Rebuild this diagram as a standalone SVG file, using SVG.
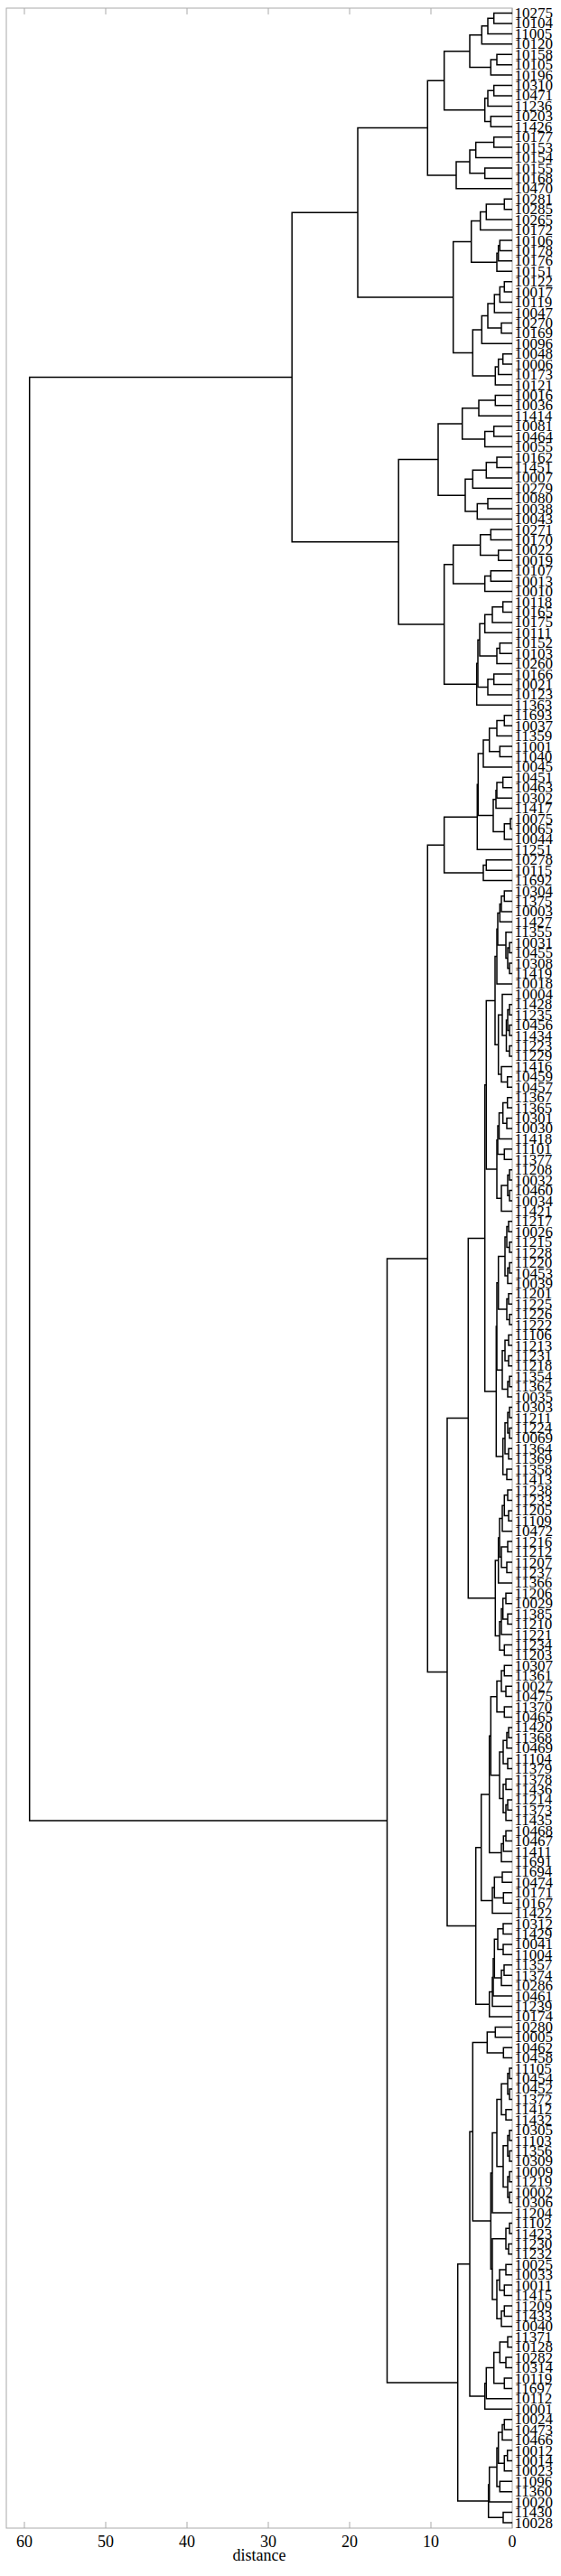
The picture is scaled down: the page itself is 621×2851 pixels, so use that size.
<svg xmlns="http://www.w3.org/2000/svg" width="621" height="2851" viewBox="0 0 621 2851">
<style>
.frame{fill:none;stroke:#aaaaaa;stroke-width:1}
.tick{stroke:#aaaaaa;stroke-width:1}
.lk path{fill:none;stroke:#000;stroke-width:1.5}
.lbl{font-family:"Liberation Serif","Times New Roman",serif;font-size:17px;fill:#000;dominant-baseline:central}
.tl{font-family:"Liberation Serif","Times New Roman",serif;font-size:18px;fill:#000;text-anchor:middle}
</style>
<rect width="621" height="2851" fill="#fff"/>
<g id="axes">
<rect class="frame" x="7" y="9" width="560" height="2789"/>
<path class="tick" d="M27 2798V2791M117 2798V2791M207 2798V2791M297 2798V2791M387 2798V2791M477 2798V2791M567 2798V2791M27 9V16M117 9V16M207 9V16M297 9V16M387 9V16M477 9V16M567 9V16"/>
<text class="tl" x="27" y="2819">60</text>
<text class="tl" x="117" y="2819">50</text>
<text class="tl" x="207" y="2819">40</text>
<text class="tl" x="297" y="2819">30</text>
<text class="tl" x="387" y="2819">20</text>
<text class="tl" x="477" y="2819">10</text>
<text class="tl" x="567" y="2819">0</text>
<text class="tl" x="287" y="2834">distance</text>
</g>
<g id="connectors" class="lk">
<path d="M567 14.5H546.7V25.9H567"/><path d="M546.7 20.2H540V37.4H567"/><path d="M540 28.8H533.3V48.8H567"/><path d="M567 60.2H550V71.7H567"/><path d="M550 66H543.3V83.1H567"/><path d="M533.3 38.8H520V74.6H543.3"/><path d="M567 94.5H546.7V105.9H567"/><path d="M546.7 100.2H540V117.4H567"/><path d="M567 128.8H543.3V140.2H567"/><path d="M540 108.8H536.7V134.5H543.3"/><path d="M520 56.7H491.7V121.7H536.7"/><path d="M567 151.7H546.7V163.1H567"/><path d="M546.7 157.4H526.7V174.5H567"/><path d="M567 186H536.7V197.4H567"/><path d="M526.7 166H520V191.7H536.7"/><path d="M520 178.9H505V208.8H567"/><path d="M491.7 89.2H473.3V193.9H505"/><path d="M567 220.2H558.3V231.7H567"/><path d="M558.3 226H538.3V243.1H567"/><path d="M538.3 234.6H531.7V254.5H567"/><path d="M567 266H553.3V277.4H567"/><path d="M553.3 271.7H551.7V288.8H567"/><path d="M551.7 280.3H550V300.3H567"/><path d="M531.7 244.6H521.7V290.3H550"/><path d="M567 311.7H558.3V323.1H567"/><path d="M558.3 317.4H553.3V334.5H567"/><path d="M553.3 326H547.3V346H567"/><path d="M567 357.4H555V368.8H567"/><path d="M547.3 336H540V363.1H555"/><path d="M540 349.6H533.3V380.3H567"/><path d="M567 391.7H556.7V403.1H567"/><path d="M556.7 397.4H551.7V414.6H567"/><path d="M551.7 406H548.3V426H567"/><path d="M533.3 365H523.3V416H548.3"/><path d="M521.7 267.5H501.7V390.5H523.3"/><path d="M473.3 141.6H396V329H501.7"/>
<path d="M567 437.4H548.3V448.8H567"/><path d="M548.3 443.1H530V460.3H567"/><path d="M567 471.7H546.7V483.1H567"/><path d="M546.7 477.4H536.7V494.6H567"/><path d="M530 451.7H511.7V486H536.7"/><path d="M567 506H550V517.4H567"/><path d="M550 511.7H538.3V528.9H567"/><path d="M538.3 520.3H523.3V540.3H567"/><path d="M567 551.7H540V563.1H567"/><path d="M540 557.4H528.3V574.6H567"/><path d="M523.3 530.3H515V566H528.3"/><path d="M511.7 468.9H485V548.2H515"/><path d="M567 586H543.3V597.4H567"/><path d="M567 608.9H551.7V620.3H567"/><path d="M543.3 591.7H531.7V614.6H551.7"/><path d="M567 631.7H543.3V643.2H567"/><path d="M543.3 637.5H536.7V654.6H567"/><path d="M531.7 603.2H501.7V646.1H536.7"/><path d="M567 666H556.7V677.4H567"/><path d="M556.7 671.7H545V688.9H567"/><path d="M545 680.3H536.7V700.3H567"/><path d="M567 711.7H553.3V723.2H567"/><path d="M553.3 717.5H550V734.6H567"/><path d="M536.7 690.3H531V726.1H550"/><path d="M567 746H546.7V757.5H567"/><path d="M546.7 751.8H540V768.9H567"/><path d="M531 708.2H529V760.4H540"/><path d="M529 734.3H527.7V780.3H567"/><path d="M501.7 624.7H491.7V757.3H527.7"/><path d="M485 508.6H441.2V691H491.7"/><path d="M396 235.3H323.2V599.8H441.2"/>
<path d="M567 791.7H558.3V803.2H567"/><path d="M558.3 797.5H550V814.6H567"/><path d="M567 826H553.3V837.5H567"/><path d="M550 806.1H541.7V831.8H553.3"/><path d="M541.7 819H535V848.9H567"/><path d="M567 860.3H556.7V871.8H567"/><path d="M556.7 866.1H550V883.2H567"/><path d="M550 874.7H549V894.6H567"/><path d="M567 906H565V917.5H567"/><path d="M565 911.8H558.3V928.9H567"/><path d="M549 884.7H546V920.4H558.3"/><path d="M535 834H529.3V902.6H546"/><path d="M529.3 868.3H528.3V940.3H567"/><path d="M567 951.8H538.3V963.2H567"/><path d="M538.3 957.5H535V974.6H567"/><path d="M528.3 904.3H491.7V966.1H535"/>
<path d="M567 986.1H558.3V997.5H567"/><path d="M558.3 991.8H555V1008.9H567"/><path d="M555 1000.4H553.3V1020.3H567"/><path d="M567 1043.2H564V1054.6H567"/><path d="M567 1066.1H564V1077.5H567"/><path d="M564 1048.9H562V1071.8H564"/><path d="M567 1031.8H560V1060.4H562"/><path d="M553.3 1010.4H551V1046.1H560"/><path d="M551 1028.3H550V1088.9H567"/><path d="M567 1111.8H564V1123.2H567"/><path d="M567 1134.6H564V1146.1H567"/><path d="M564 1117.5H562V1140.4H564"/><path d="M567 1157.5H564V1168.9H567"/><path d="M562 1129H560.5V1163.2H564"/><path d="M567 1100.4H556V1146.1H560.5"/><path d="M567 1191.8H561.7V1203.2H567"/><path d="M567 1180.4H555V1197.5H561.7"/><path d="M556 1123.3H551.7V1189H555"/><path d="M550 1058.6H548V1156.2H551.7"/><path d="M567 1214.7H561.7V1226.1H567"/><path d="M567 1237.5H561V1248.9H567"/><path d="M561.7 1220.4H556.7V1243.2H561"/><path d="M556.7 1231.8H552.5V1260.4H567"/><path d="M567 1271.8H558.3V1283.2H567"/><path d="M552.5 1246.1H551V1277.5H558.3"/><path d="M567 1294.7H564V1306.1H567"/><path d="M567 1317.5H564V1329H567"/><path d="M564 1300.4H562V1323.3H564"/><path d="M562 1311.9H555V1340.4H567"/><path d="M551 1261.8H550V1326.2H555"/><path d="M548 1107.4H538.3V1294H550"/>
<path d="M567 1351.8H563V1363.2H567"/><path d="M567 1374.7H564V1386.1H567"/><path d="M563 1357.5H561V1380.4H564"/><path d="M567 1397.5H564V1409H567"/><path d="M564 1403.3H562V1420.4H567"/><path d="M561 1369H559V1411.9H562"/><path d="M567 1431.8H563V1443.3H567"/><path d="M567 1454.7H564V1466.1H567"/><path d="M563 1437.6H561V1460.4H564"/><path d="M567 1477.5H563V1489H567"/><path d="M567 1500.4H563V1511.8H567"/><path d="M563 1483.3H559V1506.1H563"/><path d="M567 1523.3H564V1534.7H567"/><path d="M564 1529H562V1546.1H567"/><path d="M559 1494.7H556V1537.6H562"/><path d="M559 1390.4H551.7V1449H561"/><path d="M551.7 1419.7H550V1516.2H556"/><path d="M567 1557.6H564V1569H567"/><path d="M567 1580.4H564V1591.8H567"/><path d="M564 1563.3H562V1586.1H564"/><path d="M567 1603.3H563V1614.7H567"/><path d="M562 1574.7H559V1609H563"/><path d="M567 1626.1H561V1637.6H567"/><path d="M559 1591.9H556.7V1631.9H561"/><path d="M550 1468H549.3V1611.9H556.7"/><path d="M538.3 1200.7H536.7V1540H549.3"/>
<path d="M567 1649H562V1660.4H567"/><path d="M567 1671.9H563V1683.3H567"/><path d="M562 1654.7H558.3V1677.6H563"/><path d="M558.3 1666.2H556V1694.7H567"/><path d="M567 1706.1H562V1717.6H567"/><path d="M567 1729H561V1740.4H567"/><path d="M562 1711.9H555V1734.7H561"/><path d="M556 1680.5H553V1723.3H555"/><path d="M553 1701.9H551.7V1751.9H567"/><path d="M567 1763.3H560V1774.7H567"/><path d="M567 1786.2H562V1797.6H567"/><path d="M560 1769H556.7V1791.9H562"/><path d="M556.7 1780.5H555V1809H567"/><path d="M567 1820.4H558.3V1831.9H567"/><path d="M555 1794.8H553V1826.2H558.3"/><path d="M551.7 1726.9H548.3V1810.5H553"/><path d="M536.7 1370.4H518.3V1768.7H548.3"/>
<path d="M567 1843.3H558.3V1854.7H567"/><path d="M567 1866.2H560V1877.6H567"/><path d="M558.3 1849H555V1871.9H560"/><path d="M567 1889H558.3V1900.5H567"/><path d="M555 1860.5H550V1894.8H558.3"/><path d="M567 1911.9H563V1923.3H567"/><path d="M563 1917.6H561V1934.7H567"/><path d="M567 1946.2H562V1957.6H567"/><path d="M561 1926.2H557V1951.9H562"/><path d="M567 1969H560V1980.5H567"/><path d="M567 1991.9H562V2003.3H567"/><path d="M562 1997.6H560V2014.8H567"/><path d="M560 1974.8H557V2006.2H560"/><path d="M557 1939.1H553V1990.5H557"/><path d="M550 1877.7H543.3V1964.8H553"/><path d="M567 2026.2H560V2037.6H567"/><path d="M560 2031.9H557.3V2049H567"/><path d="M557.3 2040.5H555V2060.5H567"/><path d="M543.3 1921.3H541.7V2050.5H555"/><path d="M567 2071.9H556V2083.3H567"/><path d="M567 2094.8H557.3V2106.2H567"/><path d="M556 2077.6H547.3V2100.5H557.3"/><path d="M547.3 2089.1H545V2117.6H567"/><path d="M541.7 1985.9H532.7V2103.4H545"/><path d="M567 2129.1H557V2140.5H567"/><path d="M567 2151.9H557V2163.3H567"/><path d="M557 2134.8H551V2157.6H557"/><path d="M567 2174.8H558V2186.2H567"/><path d="M558 2180.5H555V2197.6H567"/><path d="M551 2146.2H547.3V2189.1H555"/><path d="M547.3 2167.7H546V2209.1H567"/><path d="M546 2188.4H545V2220.5H567"/><path d="M545 2204.5H541.7V2231.9H567"/><path d="M532.7 2044.7H526.7V2218.2H541.7"/><path d="M518.3 1569.6H495V2131.5H526.7"/><path d="M491.7 935.2H473.3V1850.6H495"/>
<path d="M567 2243.4H548.3V2254.8H567"/><path d="M567 2266.2H557.3V2277.6H567"/><path d="M548.3 2249.1H539.3V2271.9H557.3"/><path d="M567 2289.1H564V2300.5H567"/><path d="M567 2311.9H564V2323.4H567"/><path d="M564 2294.8H562V2317.7H564"/><path d="M567 2334.8H560V2346.2H567"/><path d="M562 2306.2H555V2340.5H560"/><path d="M567 2357.7H564V2369.1H567"/><path d="M567 2380.5H564V2391.9H567"/><path d="M564 2363.4H562V2386.2H564"/><path d="M567 2403.4H564V2414.8H567"/><path d="M567 2426.2H564V2437.7H567"/><path d="M564 2409.1H562V2432H564"/><path d="M562 2374.8H557V2420.6H562"/><path d="M555 2323.4H550V2397.7H557"/><path d="M550 2360.6H545V2449.1H567"/><path d="M567 2460.5H564V2472H567"/><path d="M567 2483.4H563V2494.8H567"/><path d="M564 2466.3H560V2489.1H563"/><path d="M567 2506.2H560V2517.7H567"/><path d="M567 2529.1H558.3V2540.5H567"/><path d="M560 2512H553V2534.8H558.3"/><path d="M567 2552H558.3V2563.4H567"/><path d="M558.3 2557.7H555V2574.8H567"/><path d="M553 2523.4H550V2566.3H555"/><path d="M560 2477.7H545V2544.9H550"/><path d="M545 2404.9H543.3V2511.3H545"/><path d="M539.3 2260.5H523.3V2458.1H543.3"/><path d="M567 2586.3H562V2597.7H567"/><path d="M567 2609.1H560V2620.5H567"/><path d="M562 2592H553.3V2614.8H560"/><path d="M567 2632H558.3V2643.4H567"/><path d="M553.3 2603.4H546.7V2637.7H558.3"/><path d="M546.7 2620.6H538.3V2654.8H567"/><path d="M538.3 2637.7H536.7V2666.3H567"/><path d="M523.3 2359.3H520V2652H536.7"/><path d="M567 2677.7H558.3V2689.1H567"/><path d="M558.3 2683.4H556V2700.6H567"/><path d="M567 2712H561.7V2723.4H567"/><path d="M561.7 2717.7H558.3V2734.8H567"/><path d="M556 2692H551.7V2726.3H558.3"/><path d="M567 2746.3H553.3V2757.7H567"/><path d="M551.7 2709.2H550V2752H553.3"/><path d="M550 2730.6H541.7V2769.1H567"/><path d="M567 2780.6H557V2792H567"/><path d="M541.7 2749.9H540.7V2786.3H557"/><path d="M520 2505.7H506.7V2768.1H540.7"/><path d="M473.3 1392.9H428.5V2636.9H506.7"/><path d="M323.2 417.6H32.7V2014.9H428.5"/>
</g>
<g id="leaves" class="lbl">
<g id="leaf0"><text x="569.5" y="14.5">10275</text></g>
<g id="leaf1"><text x="569.5" y="25.9">10104</text></g>
<g id="leaf2"><text x="569.5" y="37.4">11005</text></g>
<g id="leaf3"><text x="569.5" y="48.8">10120</text></g>
<g id="leaf4"><text x="569.5" y="60.2">10158</text></g>
<g id="leaf5"><text x="569.5" y="71.7">10105</text></g>
<g id="leaf6"><text x="569.5" y="83.1">10196</text></g>
<g id="leaf7"><text x="569.5" y="94.5">10310</text></g>
<g id="leaf8"><text x="569.5" y="105.9">10471</text></g>
<g id="leaf9"><text x="569.5" y="117.4">11236</text></g>
<g id="leaf10"><text x="569.5" y="128.8">10203</text></g>
<g id="leaf11"><text x="569.5" y="140.2">11426</text></g>
<g id="leaf12"><text x="569.5" y="151.7">10177</text></g>
<g id="leaf13"><text x="569.5" y="163.1">10153</text></g>
<g id="leaf14"><text x="569.5" y="174.5">10154</text></g>
<g id="leaf15"><text x="569.5" y="186">10155</text></g>
<g id="leaf16"><text x="569.5" y="197.4">10168</text></g>
<g id="leaf17"><text x="569.5" y="208.8">10470</text></g>
<g id="leaf18"><text x="569.5" y="220.2">10281</text></g>
<g id="leaf19"><text x="569.5" y="231.7">10285</text></g>
<g id="leaf20"><text x="569.5" y="243.1">10265</text></g>
<g id="leaf21"><text x="569.5" y="254.5">10172</text></g>
<g id="leaf22"><text x="569.5" y="266">10106</text></g>
<g id="leaf23"><text x="569.5" y="277.4">10178</text></g>
<g id="leaf24"><text x="569.5" y="288.8">10176</text></g>
<g id="leaf25"><text x="569.5" y="300.3">10151</text></g>
<g id="leaf26"><text x="569.5" y="311.7">10122</text></g>
<g id="leaf27"><text x="569.5" y="323.1">10017</text></g>
<g id="leaf28"><text x="569.5" y="334.5">10119</text></g>
<g id="leaf29"><text x="569.5" y="346">10047</text></g>
<g id="leaf30"><text x="569.5" y="357.4">10270</text></g>
<g id="leaf31"><text x="569.5" y="368.8">10169</text></g>
<g id="leaf32"><text x="569.5" y="380.3">10096</text></g>
<g id="leaf33"><text x="569.5" y="391.7">10048</text></g>
<g id="leaf34"><text x="569.5" y="403.1">10006</text></g>
<g id="leaf35"><text x="569.5" y="414.6">10173</text></g>
<g id="leaf36"><text x="569.5" y="426">10121</text></g>
<g id="leaf37"><text x="569.5" y="437.4">10016</text></g>
<g id="leaf38"><text x="569.5" y="448.8">10036</text></g>
<g id="leaf39"><text x="569.5" y="460.3">11414</text></g>
<g id="leaf40"><text x="569.5" y="471.7">10081</text></g>
<g id="leaf41"><text x="569.5" y="483.1">10464</text></g>
<g id="leaf42"><text x="569.5" y="494.6">10055</text></g>
<g id="leaf43"><text x="569.5" y="506">10162</text></g>
<g id="leaf44"><text x="569.5" y="517.4">11451</text></g>
<g id="leaf45"><text x="569.5" y="528.9">10007</text></g>
<g id="leaf46"><text x="569.5" y="540.3">10279</text></g>
<g id="leaf47"><text x="569.5" y="551.7">10080</text></g>
<g id="leaf48"><text x="569.5" y="563.1">10038</text></g>
<g id="leaf49"><text x="569.5" y="574.6">10043</text></g>
<g id="leaf50"><text x="569.5" y="586">10271</text></g>
<g id="leaf51"><text x="569.5" y="597.4">10170</text></g>
<g id="leaf52"><text x="569.5" y="608.9">10022</text></g>
<g id="leaf53"><text x="569.5" y="620.3">10019</text></g>
<g id="leaf54"><text x="569.5" y="631.7">10107</text></g>
<g id="leaf55"><text x="569.5" y="643.2">10013</text></g>
<g id="leaf56"><text x="569.5" y="654.6">10010</text></g>
<g id="leaf57"><text x="569.5" y="666">10118</text></g>
<g id="leaf58"><text x="569.5" y="677.4">10165</text></g>
<g id="leaf59"><text x="569.5" y="688.9">10175</text></g>
<g id="leaf60"><text x="569.5" y="700.3">10111</text></g>
<g id="leaf61"><text x="569.5" y="711.7">10152</text></g>
<g id="leaf62"><text x="569.5" y="723.2">10103</text></g>
<g id="leaf63"><text x="569.5" y="734.6">10260</text></g>
<g id="leaf64"><text x="569.5" y="746">10166</text></g>
<g id="leaf65"><text x="569.5" y="757.5">10021</text></g>
<g id="leaf66"><text x="569.5" y="768.9">10123</text></g>
<g id="leaf67"><text x="569.5" y="780.3">11363</text></g>
<g id="leaf68"><text x="569.5" y="791.7">11693</text></g>
<g id="leaf69"><text x="569.5" y="803.2">10037</text></g>
<g id="leaf70"><text x="569.5" y="814.6">11359</text></g>
<g id="leaf71"><text x="569.5" y="826">11001</text></g>
<g id="leaf72"><text x="569.5" y="837.5">11040</text></g>
<g id="leaf73"><text x="569.5" y="848.9">10045</text></g>
<g id="leaf74"><text x="569.5" y="860.3">10451</text></g>
<g id="leaf75"><text x="569.5" y="871.8">10463</text></g>
<g id="leaf76"><text x="569.5" y="883.2">10302</text></g>
<g id="leaf77"><text x="569.5" y="894.6">11417</text></g>
<g id="leaf78"><text x="569.5" y="906">10075</text></g>
<g id="leaf79"><text x="569.5" y="917.5">10065</text></g>
<g id="leaf80"><text x="569.5" y="928.9">10044</text></g>
<g id="leaf81"><text x="569.5" y="940.3">11251</text></g>
<g id="leaf82"><text x="569.5" y="951.8">10278</text></g>
<g id="leaf83"><text x="569.5" y="963.2">10115</text></g>
<g id="leaf84"><text x="569.5" y="974.6">11692</text></g>
<g id="leaf85"><text x="569.5" y="986.1">10304</text></g>
<g id="leaf86"><text x="569.5" y="997.5">11375</text></g>
<g id="leaf87"><text x="569.5" y="1008.9">10003</text></g>
<g id="leaf88"><text x="569.5" y="1020.3">11427</text></g>
<g id="leaf89"><text x="569.5" y="1031.8">11355</text></g>
<g id="leaf90"><text x="569.5" y="1043.2">10031</text></g>
<g id="leaf91"><text x="569.5" y="1054.6">10455</text></g>
<g id="leaf92"><text x="569.5" y="1066.1">10308</text></g>
<g id="leaf93"><text x="569.5" y="1077.5">11419</text></g>
<g id="leaf94"><text x="569.5" y="1088.9">10018</text></g>
<g id="leaf95"><text x="569.5" y="1100.4">10004</text></g>
<g id="leaf96"><text x="569.5" y="1111.8">11428</text></g>
<g id="leaf97"><text x="569.5" y="1123.2">11235</text></g>
<g id="leaf98"><text x="569.5" y="1134.6">10456</text></g>
<g id="leaf99"><text x="569.5" y="1146.1">11434</text></g>
<g id="leaf100"><text x="569.5" y="1157.5">11223</text></g>
<g id="leaf101"><text x="569.5" y="1168.9">11229</text></g>
<g id="leaf102"><text x="569.5" y="1180.4">11416</text></g>
<g id="leaf103"><text x="569.5" y="1191.8">10459</text></g>
<g id="leaf104"><text x="569.5" y="1203.2">10457</text></g>
<g id="leaf105"><text x="569.5" y="1214.7">11367</text></g>
<g id="leaf106"><text x="569.5" y="1226.1">11365</text></g>
<g id="leaf107"><text x="569.5" y="1237.5">10301</text></g>
<g id="leaf108"><text x="569.5" y="1248.9">10030</text></g>
<g id="leaf109"><text x="569.5" y="1260.4">11418</text></g>
<g id="leaf110"><text x="569.5" y="1271.8">11101</text></g>
<g id="leaf111"><text x="569.5" y="1283.2">11377</text></g>
<g id="leaf112"><text x="569.5" y="1294.7">11208</text></g>
<g id="leaf113"><text x="569.5" y="1306.1">10032</text></g>
<g id="leaf114"><text x="569.5" y="1317.5">10460</text></g>
<g id="leaf115"><text x="569.5" y="1329">10034</text></g>
<g id="leaf116"><text x="569.5" y="1340.4">11421</text></g>
<g id="leaf117"><text x="569.5" y="1351.8">11217</text></g>
<g id="leaf118"><text x="569.5" y="1363.2">10026</text></g>
<g id="leaf119"><text x="569.5" y="1374.7">11215</text></g>
<g id="leaf120"><text x="569.5" y="1386.1">11228</text></g>
<g id="leaf121"><text x="569.5" y="1397.5">11220</text></g>
<g id="leaf122"><text x="569.5" y="1409">10453</text></g>
<g id="leaf123"><text x="569.5" y="1420.4">10039</text></g>
<g id="leaf124"><text x="569.5" y="1431.8">11201</text></g>
<g id="leaf125"><text x="569.5" y="1443.3">11225</text></g>
<g id="leaf126"><text x="569.5" y="1454.7">11226</text></g>
<g id="leaf127"><text x="569.5" y="1466.1">11222</text></g>
<g id="leaf128"><text x="569.5" y="1477.5">11106</text></g>
<g id="leaf129"><text x="569.5" y="1489">11213</text></g>
<g id="leaf130"><text x="569.5" y="1500.4">11231</text></g>
<g id="leaf131"><text x="569.5" y="1511.8">11218</text></g>
<g id="leaf132"><text x="569.5" y="1523.3">11354</text></g>
<g id="leaf133"><text x="569.5" y="1534.7">11362</text></g>
<g id="leaf134"><text x="569.5" y="1546.1">10035</text></g>
<g id="leaf135"><text x="569.5" y="1557.6">10303</text></g>
<g id="leaf136"><text x="569.5" y="1569">11211</text></g>
<g id="leaf137"><text x="569.5" y="1580.4">11224</text></g>
<g id="leaf138"><text x="569.5" y="1591.8">10069</text></g>
<g id="leaf139"><text x="569.5" y="1603.3">11364</text></g>
<g id="leaf140"><text x="569.5" y="1614.7">11369</text></g>
<g id="leaf141"><text x="569.5" y="1626.1">11358</text></g>
<g id="leaf142"><text x="569.5" y="1637.6">11413</text></g>
<g id="leaf143"><text x="569.5" y="1649">11238</text></g>
<g id="leaf144"><text x="569.5" y="1660.4">11233</text></g>
<g id="leaf145"><text x="569.5" y="1671.9">11205</text></g>
<g id="leaf146"><text x="569.5" y="1683.3">11109</text></g>
<g id="leaf147"><text x="569.5" y="1694.7">10472</text></g>
<g id="leaf148"><text x="569.5" y="1706.1">11216</text></g>
<g id="leaf149"><text x="569.5" y="1717.6">11212</text></g>
<g id="leaf150"><text x="569.5" y="1729">11207</text></g>
<g id="leaf151"><text x="569.5" y="1740.4">11237</text></g>
<g id="leaf152"><text x="569.5" y="1751.9">11366</text></g>
<g id="leaf153"><text x="569.5" y="1763.3">11206</text></g>
<g id="leaf154"><text x="569.5" y="1774.7">10029</text></g>
<g id="leaf155"><text x="569.5" y="1786.2">11385</text></g>
<g id="leaf156"><text x="569.5" y="1797.6">11210</text></g>
<g id="leaf157"><text x="569.5" y="1809">11221</text></g>
<g id="leaf158"><text x="569.5" y="1820.4">11234</text></g>
<g id="leaf159"><text x="569.5" y="1831.9">11203</text></g>
<g id="leaf160"><text x="569.5" y="1843.3">10307</text></g>
<g id="leaf161"><text x="569.5" y="1854.7">11361</text></g>
<g id="leaf162"><text x="569.5" y="1866.2">10027</text></g>
<g id="leaf163"><text x="569.5" y="1877.6">10475</text></g>
<g id="leaf164"><text x="569.5" y="1889">11370</text></g>
<g id="leaf165"><text x="569.5" y="1900.5">10465</text></g>
<g id="leaf166"><text x="569.5" y="1911.9">11420</text></g>
<g id="leaf167"><text x="569.5" y="1923.3">11368</text></g>
<g id="leaf168"><text x="569.5" y="1934.7">10469</text></g>
<g id="leaf169"><text x="569.5" y="1946.2">11104</text></g>
<g id="leaf170"><text x="569.5" y="1957.6">11379</text></g>
<g id="leaf171"><text x="569.5" y="1969">11378</text></g>
<g id="leaf172"><text x="569.5" y="1980.5">11436</text></g>
<g id="leaf173"><text x="569.5" y="1991.9">11214</text></g>
<g id="leaf174"><text x="569.5" y="2003.3">11373</text></g>
<g id="leaf175"><text x="569.5" y="2014.8">11435</text></g>
<g id="leaf176"><text x="569.5" y="2026.2">10468</text></g>
<g id="leaf177"><text x="569.5" y="2037.6">10467</text></g>
<g id="leaf178"><text x="569.5" y="2049">11411</text></g>
<g id="leaf179"><text x="569.5" y="2060.5">11691</text></g>
<g id="leaf180"><text x="569.5" y="2071.9">11694</text></g>
<g id="leaf181"><text x="569.5" y="2083.3">10474</text></g>
<g id="leaf182"><text x="569.5" y="2094.8">10171</text></g>
<g id="leaf183"><text x="569.5" y="2106.2">10167</text></g>
<g id="leaf184"><text x="569.5" y="2117.6">11422</text></g>
<g id="leaf185"><text x="569.5" y="2129.1">10312</text></g>
<g id="leaf186"><text x="569.5" y="2140.5">11429</text></g>
<g id="leaf187"><text x="569.5" y="2151.9">10041</text></g>
<g id="leaf188"><text x="569.5" y="2163.3">11004</text></g>
<g id="leaf189"><text x="569.5" y="2174.8">11357</text></g>
<g id="leaf190"><text x="569.5" y="2186.2">11374</text></g>
<g id="leaf191"><text x="569.5" y="2197.6">10286</text></g>
<g id="leaf192"><text x="569.5" y="2209.1">10461</text></g>
<g id="leaf193"><text x="569.5" y="2220.5">11239</text></g>
<g id="leaf194"><text x="569.5" y="2231.9">10174</text></g>
<g id="leaf195"><text x="569.5" y="2243.4">10280</text></g>
<g id="leaf196"><text x="569.5" y="2254.8">10005</text></g>
<g id="leaf197"><text x="569.5" y="2266.2">10462</text></g>
<g id="leaf198"><text x="569.5" y="2277.6">10458</text></g>
<g id="leaf199"><text x="569.5" y="2289.1">11105</text></g>
<g id="leaf200"><text x="569.5" y="2300.5">10454</text></g>
<g id="leaf201"><text x="569.5" y="2311.9">10452</text></g>
<g id="leaf202"><text x="569.5" y="2323.4">11372</text></g>
<g id="leaf203"><text x="569.5" y="2334.8">11412</text></g>
<g id="leaf204"><text x="569.5" y="2346.2">11432</text></g>
<g id="leaf205"><text x="569.5" y="2357.7">10305</text></g>
<g id="leaf206"><text x="569.5" y="2369.1">11103</text></g>
<g id="leaf207"><text x="569.5" y="2380.5">11356</text></g>
<g id="leaf208"><text x="569.5" y="2391.9">10309</text></g>
<g id="leaf209"><text x="569.5" y="2403.4">10009</text></g>
<g id="leaf210"><text x="569.5" y="2414.8">11219</text></g>
<g id="leaf211"><text x="569.5" y="2426.2">10002</text></g>
<g id="leaf212"><text x="569.5" y="2437.7">10306</text></g>
<g id="leaf213"><text x="569.5" y="2449.1">11204</text></g>
<g id="leaf214"><text x="569.5" y="2460.5">11102</text></g>
<g id="leaf215"><text x="569.5" y="2472">11423</text></g>
<g id="leaf216"><text x="569.5" y="2483.4">11230</text></g>
<g id="leaf217"><text x="569.5" y="2494.8">11232</text></g>
<g id="leaf218"><text x="569.5" y="2506.2">10025</text></g>
<g id="leaf219"><text x="569.5" y="2517.7">10033</text></g>
<g id="leaf220"><text x="569.5" y="2529.1">10011</text></g>
<g id="leaf221"><text x="569.5" y="2540.5">11415</text></g>
<g id="leaf222"><text x="569.5" y="2552">11209</text></g>
<g id="leaf223"><text x="569.5" y="2563.4">11433</text></g>
<g id="leaf224"><text x="569.5" y="2574.8">10040</text></g>
<g id="leaf225"><text x="569.5" y="2586.3">11371</text></g>
<g id="leaf226"><text x="569.5" y="2597.7">10128</text></g>
<g id="leaf227"><text x="569.5" y="2609.1">10282</text></g>
<g id="leaf228"><text x="569.5" y="2620.5">10314</text></g>
<g id="leaf229"><text x="569.5" y="2632">10119</text></g>
<g id="leaf230"><text x="569.5" y="2643.4">11697</text></g>
<g id="leaf231"><text x="569.5" y="2654.8">10112</text></g>
<g id="leaf232"><text x="569.5" y="2666.3">10001</text></g>
<g id="leaf233"><text x="569.5" y="2677.7">10024</text></g>
<g id="leaf234"><text x="569.5" y="2689.1">10473</text></g>
<g id="leaf235"><text x="569.5" y="2700.6">10466</text></g>
<g id="leaf236"><text x="569.5" y="2712">10012</text></g>
<g id="leaf237"><text x="569.5" y="2723.4">10014</text></g>
<g id="leaf238"><text x="569.5" y="2734.8">10023</text></g>
<g id="leaf239"><text x="569.5" y="2746.3">11096</text></g>
<g id="leaf240"><text x="569.5" y="2757.7">11360</text></g>
<g id="leaf241"><text x="569.5" y="2769.1">10020</text></g>
<g id="leaf242"><text x="569.5" y="2780.6">11430</text></g>
<g id="leaf243"><text x="569.5" y="2792">10028</text></g>
</g>
</svg>
